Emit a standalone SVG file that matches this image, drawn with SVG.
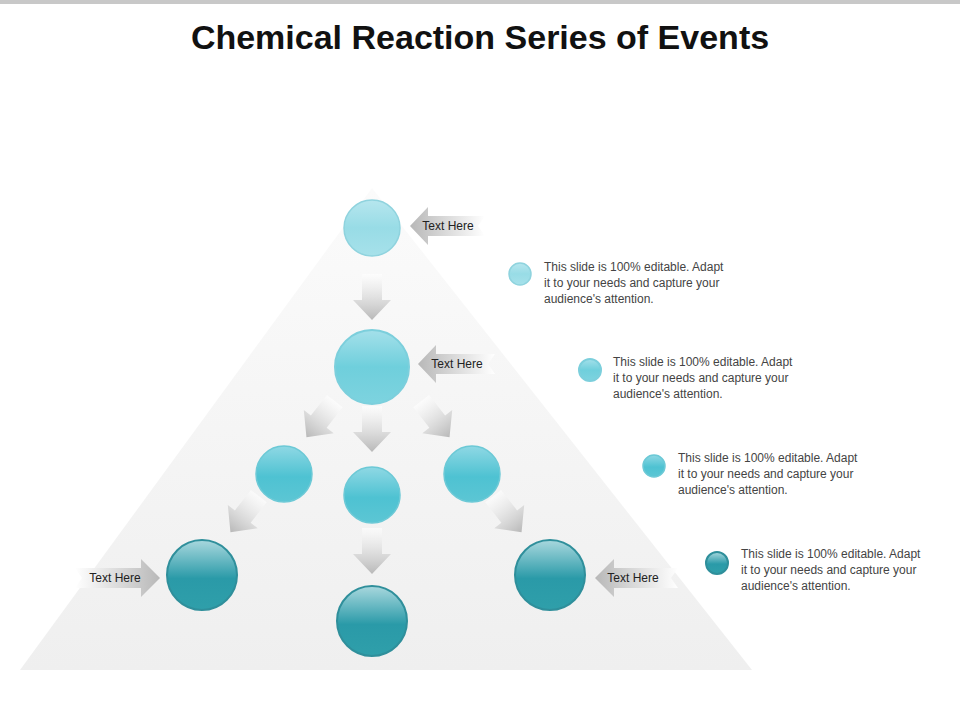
<svg xmlns="http://www.w3.org/2000/svg" width="960" height="720" viewBox="0 0 960 720">
<defs>
<linearGradient id="tri" x1="0" y1="0" x2="0" y2="1"><stop offset="0" stop-color="#fbfbfb"/><stop offset="1" stop-color="#efefef"/></linearGradient>
<linearGradient id="c1" x1="0" y1="0" x2="0" y2="1"><stop offset="0" stop-color="#b6e6ee"/><stop offset="0.5" stop-color="#98dce6"/><stop offset="1" stop-color="#a6e1ea"/></linearGradient>
<linearGradient id="c2" x1="0" y1="0" x2="0" y2="1"><stop offset="0" stop-color="#a4e0ea"/><stop offset="0.5" stop-color="#6fcfdc"/><stop offset="1" stop-color="#7dd3df"/></linearGradient>
<linearGradient id="c3" x1="0" y1="0" x2="0" y2="1"><stop offset="0" stop-color="#8fd8e4"/><stop offset="0.55" stop-color="#4ec2d2"/><stop offset="1" stop-color="#5cc6d4"/></linearGradient>
<linearGradient id="c4" x1="0" y1="0" x2="0" y2="1"><stop offset="0" stop-color="#a9d8de"/><stop offset="0.55" stop-color="#2a9aa8"/><stop offset="1" stop-color="#2f9faa"/></linearGradient>
<linearGradient id="ar" x1="0" y1="0" x2="0" y2="1"><stop offset="0" stop-color="#ffffff" stop-opacity="0.6"/><stop offset="1" stop-color="#b8b8b8"/></linearGradient>
<linearGradient id="la" x1="0" y1="0" x2="1" y2="0"><stop offset="0" stop-color="#b8b8b8"/><stop offset="1" stop-color="#ffffff"/></linearGradient>
<linearGradient id="ra" x1="1" y1="0" x2="0" y2="0"><stop offset="0" stop-color="#b8b8b8"/><stop offset="1" stop-color="#ffffff"/></linearGradient>
<path id="down" d="M-10,-24 H10 V2 H19 L0,22 L-19,2 H-10 Z"/>
</defs>
<style>
.lbl{font-family:"Liberation Sans",Arial,sans-serif;font-size:12px;fill:#222}
.desc{font-family:"Liberation Sans",Arial,sans-serif;font-size:12px;fill:#444}
.n1{fill:url(#c1);stroke:#8fd3de;stroke-width:1.5}
.n2{fill:url(#c2);stroke:#7ccfdc;stroke-width:2}
.n3{fill:url(#c3);stroke:#6cc9d6;stroke-width:1.5}
.n4{fill:url(#c4);stroke:#2f8f9b;stroke-width:2}
</style>
<rect x="0" y="0" width="960" height="4" fill="#c8c8c8"/>
<text x="480" y="49" text-anchor="middle" font-family="'Liberation Sans',Arial,sans-serif" font-size="34" font-weight="bold" fill="#111">Chemical Reaction Series of Events</text>
<polygon points="372,188 752,670 20,670" fill="url(#tri)"/>
<g id="connectors" fill="url(#ar)">
<use href="#down" transform="translate(372,298)"/>
<use href="#down" transform="translate(372,430)"/>
<use href="#down" transform="translate(320,420) rotate(38)"/>
<use href="#down" transform="translate(436,420) rotate(-38)"/>
<use href="#down" transform="translate(244,515) rotate(38)"/>
<use href="#down" transform="translate(372,552)"/>
<use href="#down" transform="translate(508,515) rotate(-38)"/>
</g>
<g id="label1"><path d="M410,226 L428,207 V216 H485 L478,226 L485,236 H428 V245 Z" fill="url(#la)"/><text class="lbl" x="448" y="230" text-anchor="middle">Text Here</text></g>
<g id="label2"><path d="M418,364 L436,345 V354 H495 L488,364 L495,374 H436 V383 Z" fill="url(#la)"/><text class="lbl" x="457" y="368" text-anchor="middle">Text Here</text></g>
<g id="label3"><path d="M160,578 L141,559 V568 H75 L82,578 L75,588 H141 V597 Z" fill="url(#ra)"/><text class="lbl" x="115" y="582" text-anchor="middle">Text Here</text></g>
<g id="label4"><path d="M595,578 L614,559 V568 H678 L671,578 L678,588 H614 V597 Z" fill="url(#la)"/><text class="lbl" x="633" y="582" text-anchor="middle">Text Here</text></g>
<g id="node1"><circle class="n1" cx="372" cy="228" r="28"/></g>
<g id="node2"><circle class="n2" cx="372" cy="367" r="37"/></g>
<g id="node3"><circle class="n3" cx="284" cy="474" r="28"/></g>
<g id="node4"><circle class="n3" cx="372" cy="495" r="28"/></g>
<g id="node5"><circle class="n3" cx="472" cy="474" r="28"/></g>
<g id="node6"><circle class="n4" cx="202" cy="575" r="35"/></g>
<g id="node7"><circle class="n4" cx="372" cy="621" r="35"/></g>
<g id="node8"><circle class="n4" cx="550" cy="575" r="35"/></g>
<g id="desc1"><circle class="n1" cx="520" cy="274" r="11"/><text class="desc" x="544" y="271">This slide is 100% editable. Adapt<tspan x="544" dy="16">it to your needs and capture your</tspan><tspan x="544" dy="16">audience's attention.</tspan></text></g>
<g id="desc2"><circle class="n2" cx="590" cy="370" r="11"/><text class="desc" x="613" y="366">This slide is 100% editable. Adapt<tspan x="613" dy="16">it to your needs and capture your</tspan><tspan x="613" dy="16">audience's attention.</tspan></text></g>
<g id="desc3"><circle class="n3" cx="654" cy="466" r="11"/><text class="desc" x="678" y="462">This slide is 100% editable. Adapt<tspan x="678" dy="16">it to your needs and capture your</tspan><tspan x="678" dy="16">audience's attention.</tspan></text></g>
<g id="desc4"><circle class="n4" cx="717" cy="563" r="11"/><text class="desc" x="741" y="558">This slide is 100% editable. Adapt<tspan x="741" dy="16">it to your needs and capture your</tspan><tspan x="741" dy="16">audience's attention.</tspan></text></g>
</svg>
